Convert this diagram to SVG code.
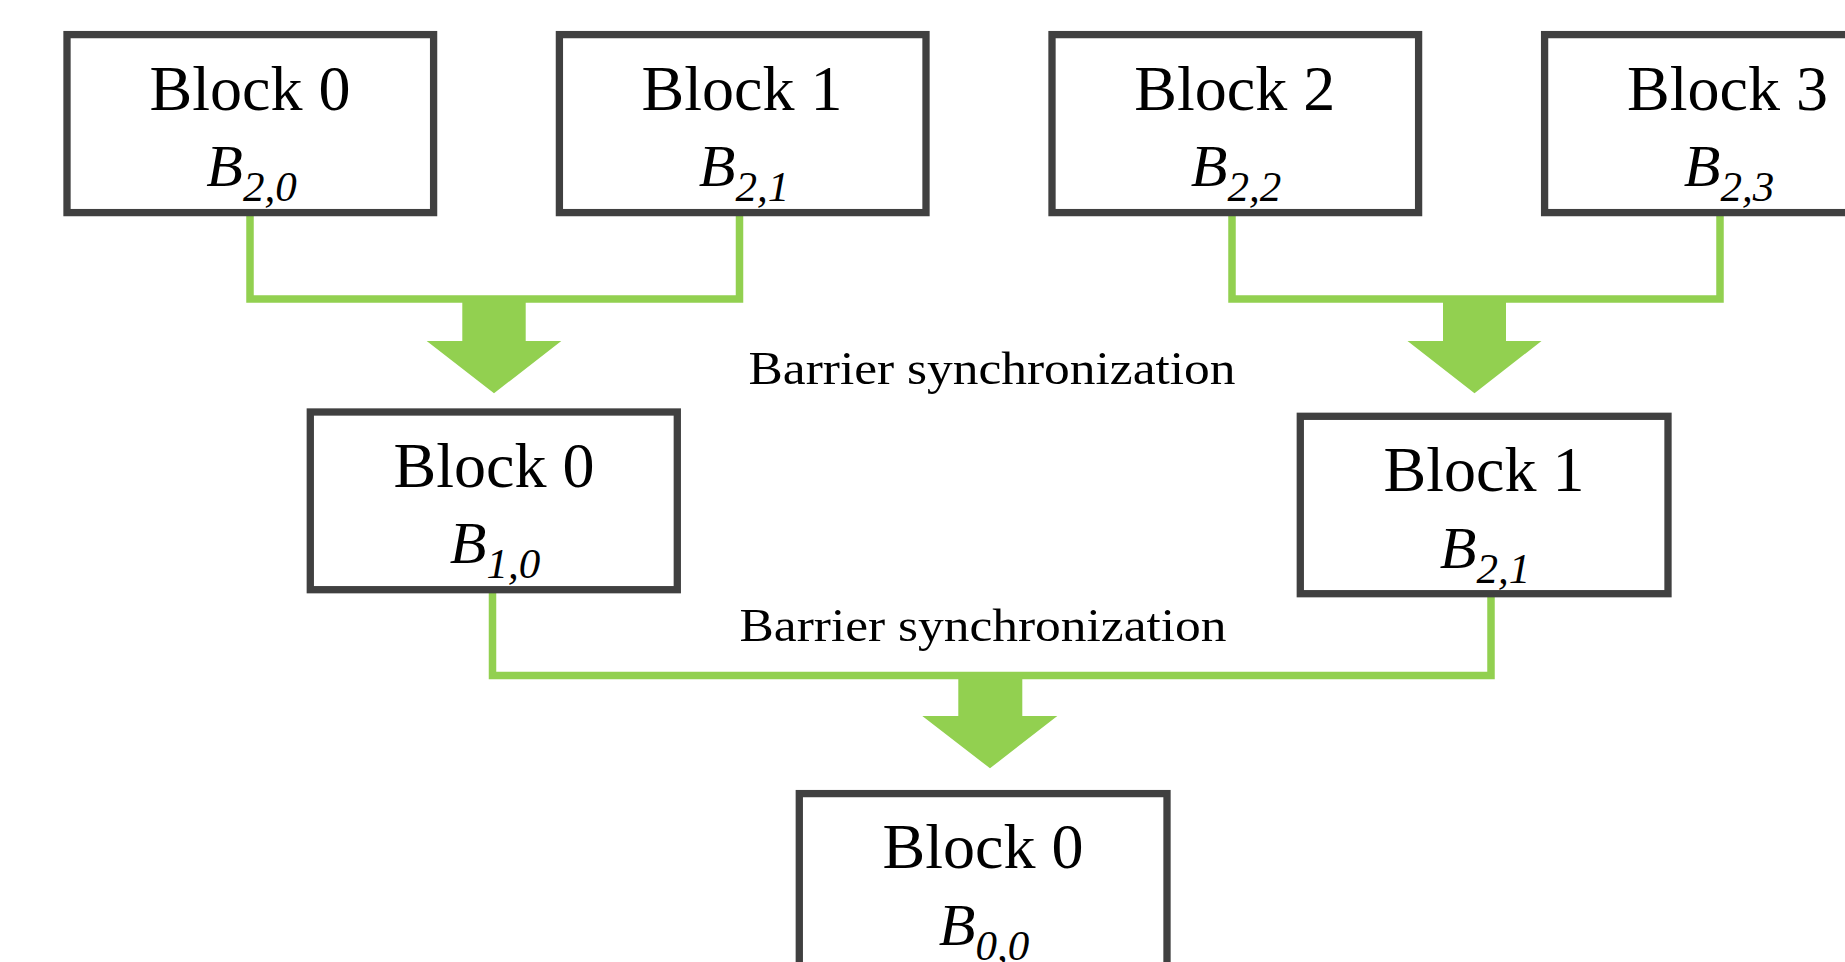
<svg xmlns="http://www.w3.org/2000/svg" width="1845" height="962" viewBox="0 0 1845 962">
<style>
.box{fill:#fff;stroke:#404040;stroke-width:7.3}
.lbl{font-family:"Liberation Serif",serif;font-size:64px;fill:#000;text-anchor:middle}
.math{font-family:"Liberation Serif",serif;font-style:italic;font-size:60px;fill:#000;text-anchor:middle}
.sub{font-size:43px}
.bar{font-family:"Liberation Serif",serif;font-size:46px;fill:#000}
.conn{fill:none;stroke:#92D050;stroke-width:7.5;stroke-linejoin:miter}
.arr{fill:#92D050}
</style>
<rect width="1845" height="962" fill="#fff"/>
<g id="connectors">
<path class="conn" d="M250,216 V299 H739.5 V216"/>
<path class="conn" d="M1232,216 V299 H1720 V216"/>
<path class="conn" d="M492.5,593 V675.5 H1491 V597"/>
<polygon class="arr" points="462.3,299 525.7,299 525.7,341 561.3,341 494,393.3 426.7,341 462.3,341"/>
<polygon class="arr" points="1443,299 1506,299 1506,341 1541.5,341 1474.5,393.3 1407.5,341 1443,341"/>
<polygon class="arr" points="958.3,675 1022.3,675 1022.3,716 1057.3,716 990,768.3 922.3,716 958.3,716"/>
</g>
<g id="barrier1"><text class="bar" x="748.5" y="384" textLength="487" lengthAdjust="spacingAndGlyphs">Barrier synchronization</text></g>
<g id="barrier2"><text class="bar" x="739.5" y="641" textLength="487" lengthAdjust="spacingAndGlyphs">Barrier synchronization</text></g>
<g id="top-block0">
<rect class="box" x="67" y="34.6" width="366.6" height="178"/>
<text class="lbl" x="250" y="109.5">Block 0</text>
<text class="math" x="251.5" y="185.5">B<tspan class="sub" dy="15">2,0</tspan></text>
</g>
<g id="top-block1">
<rect class="box" x="559.4" y="34.6" width="366.6" height="178"/>
<text class="lbl" x="742" y="109.5">Block 1</text>
<text class="math" x="744" y="185.5">B<tspan class="sub" dy="15">2,1</tspan></text>
</g>
<g id="top-block2">
<rect class="box" x="1052" y="34.6" width="366.6" height="178"/>
<text class="lbl" x="1234.7" y="109.5">Block 2</text>
<text class="math" x="1236" y="185.5">B<tspan class="sub" dy="15">2,2</tspan></text>
</g>
<g id="top-block3">
<rect class="box" x="1544.6" y="34.6" width="366.6" height="178"/>
<text class="lbl" x="1727.5" y="109.5">Block 3</text>
<text class="math" x="1729" y="185.5">B<tspan class="sub" dy="15">2,3</tspan></text>
</g>
<g id="mid-block0">
<rect class="box" x="310.3" y="412" width="367" height="177.7"/>
<text class="lbl" x="494" y="487.3">Block 0</text>
<text class="math" x="495" y="563.3">B<tspan class="sub" dy="15">1,0</tspan></text>
</g>
<g id="mid-block1">
<rect class="box" x="1300.3" y="416.3" width="367.7" height="177.4"/>
<text class="lbl" x="1484" y="490.7">Block 1</text>
<text class="math" x="1485" y="568.3">B<tspan class="sub" dy="15">2,1</tspan></text>
</g>
<g id="bottom-block0">
<rect class="box" x="799.3" y="793.6" width="367.7" height="178"/>
<text class="lbl" x="983" y="868.3">Block 0</text>
<text class="math" x="984" y="945">B<tspan class="sub" dy="15">0,0</tspan></text>
</g>
</svg>
